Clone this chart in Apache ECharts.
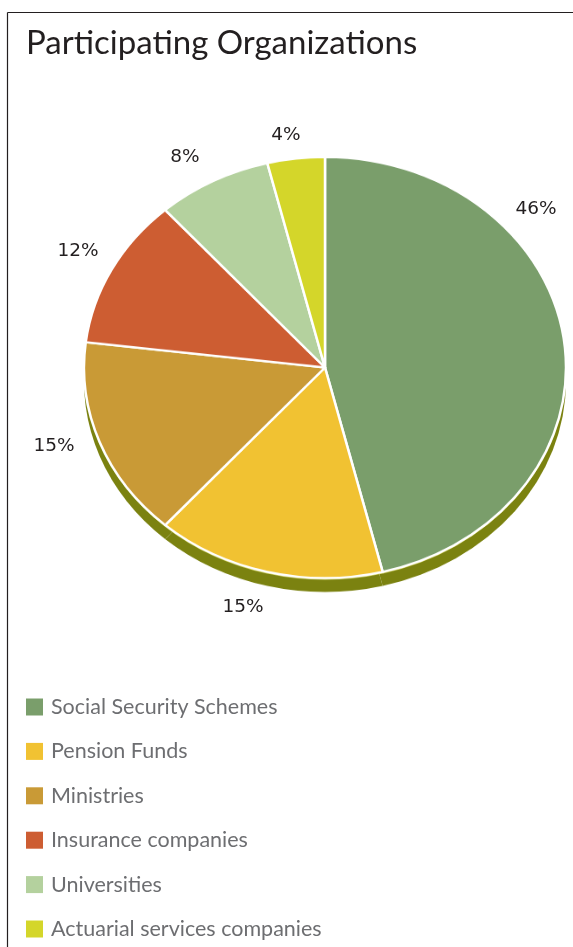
<!DOCTYPE html>
<html>
<head>
<meta charset="utf-8">
<script src="https://cdn.jsdelivr.net/npm/echarts@6/dist/echarts.min.js"></script>
<style>
  html, body { margin: 0; padding: 0; background: #ffffff; }
  #wrap { position: relative; width: 573px; height: 947px; overflow: hidden; }
  #pie { position: absolute; left: 0; top: 0; width: 573px; height: 947px;
         transform: scaleY(0.8734); transform-origin: 0 367.5px; }
  #fg { position: absolute; left: 0; top: 0; width: 573px; height: 947px; }
</style>
</head>
<body>
<div id="wrap">
  <div id="pie"></div>
  <div id="fg"></div>
</div>
<script>
// ---- data ----
const categories = ['Social Security Schemes', 'Pension Funds', 'Ministries', 'Insurance companies', 'Universities', 'Actuarial services companies'];
const counts = [12, 4, 4, 3, 2, 1];   // organizations per type (shown as rounded % of total)
const sliceColors = ['#7a9e6b', '#f1c232', '#c99a36', '#cd5d32', '#b4d19e', '#d4d62a'];
const chartTitle = 'Participating Organizations';

const pieData = categories.map((n, i) => ({ name: n, value: counts[i] }));

// label placement (screen positions of the percentage texts)
const labelPos = [[536, 209], [243, 607], [54, 446], [78, 251], [185, 157], [286, 135]];

// ---- pie (flattened by CSS to give the tilted look) ----
const pieChart = echarts.init(document.getElementById('pie'), null, { renderer: 'canvas' });
pieChart.setOption({
  animation: false,
  series: [
    {
      type: 'pie', silent: true,
      center: [325, 383.5], radius: 241, startAngle: 90,
      label: { show: false }, labelLine: { show: false },
      itemStyle: { color: '#7b8210', borderWidth: 0 },
      data: pieData.map(d => ({ name: d.name, value: d.value }))
    },
    {
      type: 'pie', silent: true,
      center: [325, 369.5], radius: 241, startAngle: 90,
      label: { show: false }, labelLine: { show: false },
      itemStyle: { color: '#d9d86e', borderWidth: 0 },
      data: pieData.map(d => ({ name: d.name, value: d.value }))
    },
    {
      type: 'pie', silent: true,
      center: [325, 367.5], radius: 241, startAngle: 90,
      label: { show: false }, labelLine: { show: false },
      color: sliceColors,
      itemStyle: { borderColor: '#ffffff', borderWidth: 2.5 },
      data: pieData
    }
  ]
});

// ---- foreground: title, labels, legend ----
const fg = echarts.init(document.getElementById('fg'), null, { renderer: 'canvas' });
fg.setOption({
  animation: false,
  color: sliceColors,
  title: {
    text: chartTitle, left: 21, top: 22,
    textStyle: { fontFamily: 'Lato', fontWeight: 'normal', fontSize: 33, color: '#231f20' }
  },
  legend: {
    orient: 'vertical', left: 26, top: 696, padding: 0,
    itemWidth: 17, itemHeight: 17, itemGap: 22.4, icon: 'rect',
    selectedMode: false,
    itemStyle: { opacity: 1, borderWidth: 0 },
    textStyle: { fontFamily: 'Lato', fontSize: 21.5, color: '#6d6e71', padding: [0, 0, 0, 3] },
    data: categories
  },
  graphic: [
    { type: 'line', shape: { x1: 7.5, y1: 12.5, x2: 573, y2: 12.5 }, style: { stroke: '#231f20', lineWidth: 1.2 } },
    { type: 'line', shape: { x1: 7.5, y1: 12.5, x2: 7.5, y2: 947 }, style: { stroke: '#231f20', lineWidth: 1.2 } }
  ],
  series: [{
    type: 'pie', silent: true,
    center: [325, 367.5], radius: 241, startAngle: 90,
    percentPrecision: 0,
    itemStyle: { opacity: 0, borderWidth: 0 },
    labelLine: { show: false },
    label: {
      show: true, position: 'inside', formatter: '{d}%', opacity: 1,
      fontFamily: 'DejaVu Sans', fontSize: 18.5, color: '#231f20'
    },
    labelLayout: function (p) {
      const pos = labelPos[p.dataIndex];
      return { x: pos[0], y: pos[1], align: 'center', verticalAlign: 'middle' };
    },
    data: pieData
  }]
});
</script>
</body>
</html>
